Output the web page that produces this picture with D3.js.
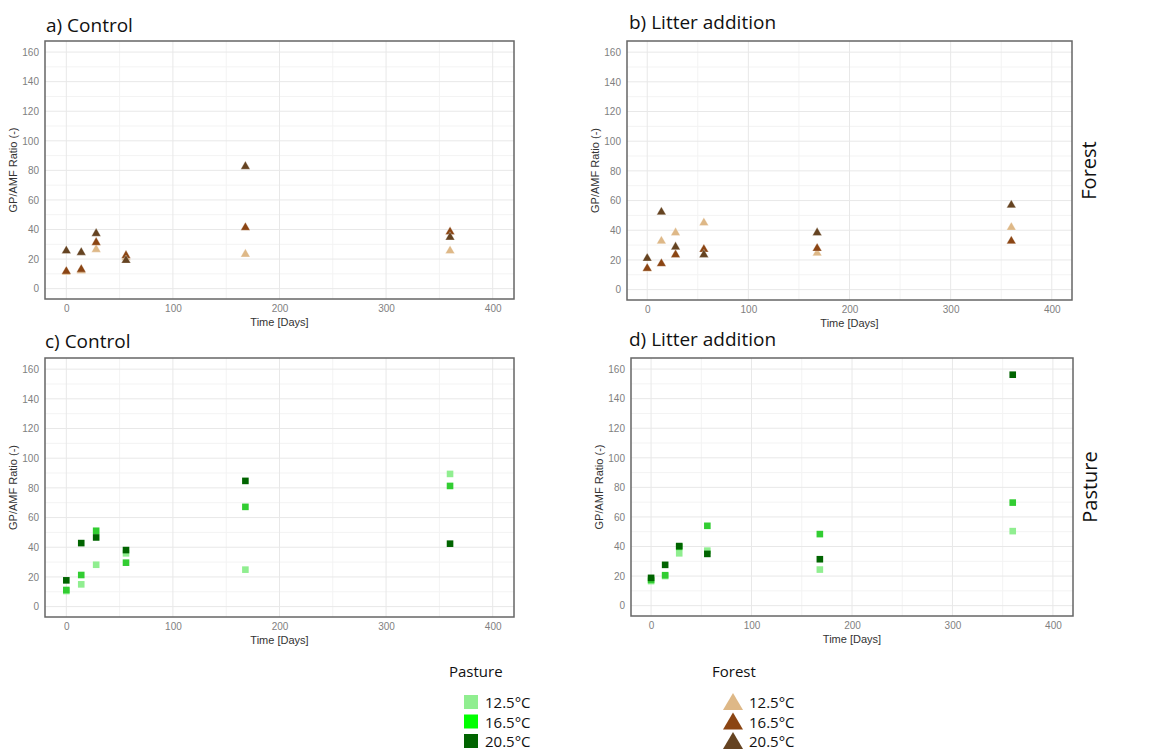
<!DOCTYPE html>
<html>
<head>
<meta charset="utf-8">
<script src="https://cdn.jsdelivr.net/npm/d3@7"></script>
<style>
  body { margin: 0; background: #fff; }
  svg text { font-family: "Liberation Sans", Arial, sans-serif; }
  .big { font-family: "Open Sans", sans-serif !important; fill: #111; }
</style>
</head>
<body>
<svg id="chart" width="1171" height="751"></svg>
<script>
const days = [0, 14, 28, 56, 168, 360]
const temps = ["12.5°C", "16.5°C", "20.5°C"]
const xTicks = [0, 100, 200, 300, 400]
const xMinor = [50, 150, 250, 350]
const yTicks = [0, 20, 40, 60, 80, 100, 120, 140, 160]
const yMinor = [10, 30, 50, 70, 90, 110, 130, 150]

// forest, triangles
const forestControl125 = [11, 12, 26.5, 21, 23.3, 25.6]
const forestControl165 = [11.7, 13.0, 31.2, 22.4, 41.3, 38.4]
const forestControl205 = [25.6, 24.5, 37.3, 19.1, 82.6, 34.8]
const forestLitter125 = [14, 32.7, 38.3, 45.0, 24.6, 41.9]
const forestLitter165 = [14.3, 17.5, 23.5, 27.1, 27.8, 32.7]
const forestLitter205 = [21.1, 52.2, 28.7, 23.5, 38.3, 56.9]
// pasture, squares
const pastureControl125 = [10.5, 15.0, 28.2, 35.9, 24.9, 89.4]
const pastureControl165 = [11.2, 21.3, 51.1, 29.6, 67.2, 81.3]
const pastureControl205 = [17.7, 42.8, 46.6, 38.1, 84.7, 42.4]
const pastureLitter125 = [16.6, 20, 35.4, 37.2, 24.4, 50.4]
const pastureLitter165 = [17.4, 20.6, 39.8, 54.0, 48.4, 69.7]
const pastureLitter205 = [18.8, 27.6, 40.3, 35.0, 31.4, 156.2]

const forestCols = ["#deb887", "#8b4513", "#654321"]
const pastureCols = ["#90ee90", "#32cd32", "#006400"]
const pastureLegendCols = ["#90ee90", "#00ff00", "#006400"]

const svg = d3.select("#chart")

const panels = [
  {title: "a) Control", tx: 46, ty: 32, l: 45, r: 514, t: 41, b: 299, series: [forestControl125, forestControl165, forestControl205], shape: "tri"},
  {title: "b) Litter addition", tx: 629, ty: 29, l: 627, r: 1072, t: 41, b: 300, series: [forestLitter125, forestLitter165, forestLitter205], shape: "tri", strip: "Forest"},
  {title: "c) Control", tx: 45, ty: 348, l: 45, r: 514, t: 358, b: 617, series: [pastureControl125, pastureControl165, pastureControl205], shape: "sq"},
  {title: "d) Litter addition", tx: 629, ty: 346, l: 631, r: 1073, t: 358, b: 616, series: [pastureLitter125, pastureLitter165, pastureLitter205], shape: "sq", strip: "Pasture"}
]

panels.forEach(p => {
  const x = d3.scaleLinear().domain([-20, 420]).range([p.l, p.r])
  const y = d3.scaleLinear().domain([-7, 167.5]).range([p.b, p.t])
  const g = svg.append("g")

  g.append("text").attr("class", "big").attr("x", p.tx).attr("y", p.ty)
    .attr("font-size", "19px").text(p.title)

  g.append("rect").attr("x", p.l).attr("y", p.t).attr("width", p.r - p.l).attr("height", p.b - p.t)
    .attr("fill", "#fff")

  g.selectAll("line.minx").data(xMinor).join("line")
    .attr("x1", d => x(d)).attr("x2", d => x(d)).attr("y1", p.t).attr("y2", p.b)
    .attr("stroke", "#f3f3f3").attr("stroke-width", 1)
  g.selectAll("line.miny").data(yMinor).join("line")
    .attr("y1", d => y(d)).attr("y2", d => y(d)).attr("x1", p.l).attr("x2", p.r)
    .attr("stroke", "#f3f3f3").attr("stroke-width", 1)
  g.selectAll("line.majx").data(xTicks).join("line")
    .attr("x1", d => x(d)).attr("x2", d => x(d)).attr("y1", p.t).attr("y2", p.b)
    .attr("stroke", "#e8e8e8").attr("stroke-width", 1)
  g.selectAll("line.majy").data(yTicks).join("line")
    .attr("y1", d => y(d)).attr("y2", d => y(d)).attr("x1", p.l).attr("x2", p.r)
    .attr("stroke", "#e8e8e8").attr("stroke-width", 1)

  // axes
  const xa = g.append("g").attr("transform", `translate(0,${p.b})`)
    .call(d3.axisBottom(x).tickValues(xTicks).tickSize(0).tickPadding(6))
  const ya = g.append("g").attr("transform", `translate(${p.l},0)`)
    .call(d3.axisLeft(y).tickValues(yTicks).tickSize(0).tickPadding(6))
  ;[xa, ya].forEach(a => {
    a.select(".domain").remove()
    a.selectAll("text").attr("fill", "#7f7f7f").attr("font-size", "10px")
  })

  g.append("text").attr("x", (x(0) + x(400)) / 2).attr("y", p.b + 27)
    .attr("text-anchor", "middle").attr("font-size", "11px").attr("fill", "#333").text("Time [Days]")
  g.append("text").attr("transform", `translate(${p.l - 28},${(p.t + p.b) / 2}) rotate(-90)`)
    .attr("text-anchor", "middle").attr("font-size", "11px").attr("fill", "#333").text("GP/AMF Ratio (-)")

  p.series.forEach((vals, i) => {
    const pts = days.map((d, j) => ({d: d, v: vals[j]}))
    if (p.shape === "tri") {
      g.selectAll(null).data(pts).join("path")
        .attr("d", d3.symbol(d3.symbolTriangle, 38))
        .attr("transform", d => `translate(${x(d.d)},${y(d.v)})`)
        .attr("fill", forestCols[i]).attr("stroke", "#fff").attr("stroke-opacity", 0.5).attr("stroke-width", 0.6)
    } else {
      g.selectAll(null).data(pts).join("rect")
        .attr("x", d => x(d.d) - 3.3).attr("y", d => y(d.v) - 3.3)
        .attr("width", 6.6).attr("height", 6.6)
        .attr("fill", pastureCols[i])
    }
  })

  g.append("rect").attr("x", p.l).attr("y", p.t).attr("width", p.r - p.l).attr("height", p.b - p.t)
    .attr("fill", "none").attr("stroke", "#666").attr("stroke-width", 1.5)

  if (p.strip) {
    g.append("text").attr("class", "big")
      .attr("transform", `translate(${p.r + 24},${(p.t + p.b) / 2}) rotate(-90)`)
      .attr("text-anchor", "middle").attr("font-size", "20px").text(p.strip)
  }
})

// legend
const lg = svg.append("g")
lg.append("text").attr("class", "big").attr("x", 449).attr("y", 677).attr("font-size", "15px").text("Pasture")
lg.append("text").attr("class", "big").attr("x", 712).attr("y", 677).attr("font-size", "15px").text("Forest")
const rowY = d3.scalePoint().domain(temps).range([702, 741])
temps.forEach((t, i) => {
  lg.append("rect").attr("x", 464).attr("y", rowY(t) - 7).attr("width", 14).attr("height", 14)
    .attr("fill", pastureLegendCols[i])
  lg.append("text").attr("class", "big").attr("x", 485).attr("y", rowY(t) + 6).attr("font-size", "15px").text(t)
  lg.append("path").attr("d", "M0,-9L10,8L-10,8Z").attr("transform", `translate(733,${rowY(t)})`)
    .attr("fill", forestCols[i])
  lg.append("text").attr("class", "big").attr("x", 749).attr("y", rowY(t) + 6).attr("font-size", "15px").text(t)
})
</script>
</body>
</html>
